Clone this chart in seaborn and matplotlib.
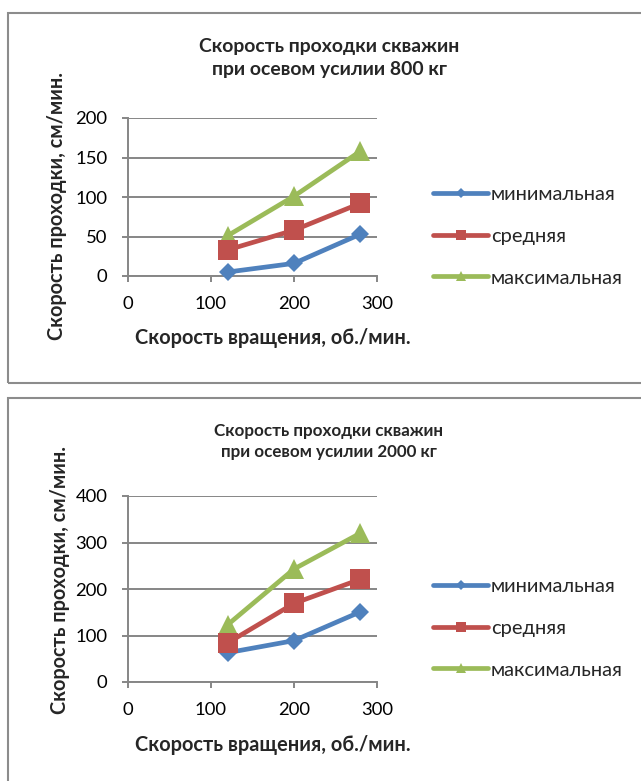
import numpy as np
import pandas as pd
import seaborn as sns
import matplotlib
matplotlib.use("Agg")
import matplotlib.pyplot as plt
from matplotlib.lines import Line2D
from matplotlib.patches import Rectangle

# ---------------- data ----------------
rpm = [120, 200, 280]
series_names = ["минимальная", "средняя", "максимальная"]
speed_800_min = [5, 16, 53]
speed_800_avg = [33, 58, 92]
speed_800_max = [51, 101, 158]
speed_2000_min = [63, 89, 151]
speed_2000_avg = [84, 169, 221]
speed_2000_max = [123, 243, 320]
title_800 = "Скорость проходки скважин\nпри осевом усилии 800 кг"
title_2000 = "Скорость проходки скважин\nпри осевом усилии 2000 кг"
xlabel_text = "Скорость вращения, об./мин."
ylabel_text = "Скорость проходки, см/мин."
x_ticks = [0, 100, 200, 300]
y_ticks_800 = [0, 50, 100, 150, 200]
y_ticks_2000 = [0, 100, 200, 300, 400]

# ---------------- style ----------------
colors = ["#4F81BD", "#C0504D", "#9BBB59"]
markers = ["D", "s", "^"]
marker_sizes = [8.7, 14.2, 14.2]
legend_marker_sizes = [5.0, 7.5, 7.5]
zorders = [3, 5, 4]
axis_gray = "#868686"
border_gray = "#8c8c8c"

sns.set_theme(style="white")
plt.rcParams["font.family"] = ["Lato", "DejaVu Sans"]

W, H = 641, 781
fig = plt.figure(figsize=(W / 100, H / 100), dpi=100)
fig.patch.set_facecolor("white")
renderer = fig.canvas.get_renderer()


def fx(x):
    return x / W


def fy(y):
    return 1 - y / H


def fit(t, target, dim="w"):
    for _ in range(4):
        bb = t.get_window_extent(renderer)
        cur = bb.width if dim == "w" else bb.height
        t.set_fontsize(t.get_fontsize() * target / cur)
    return t.get_fontsize()


# probe font sizes
probe = fig.text(0, 0, "300", fontsize=12)
tick_fs = fit(probe, 32)
probe.remove()
probe = fig.text(0, 0, "максимальная", fontsize=12)
leg_fs = fit(probe, 132)
probe.remove()

# borders of the two chart areas
fig.add_artist(Rectangle((fx(8), fy(383)), fx(700), (383 - 13) / H, transform=fig.transFigure,
                         fill=False, ec=border_gray, lw=1.5, clip_on=False))
fig.add_artist(Rectangle((fx(8), -0.2), fx(700), fy(398) + 0.2, transform=fig.transFigure,
                         fill=False, ec=border_gray, lw=1.5, clip_on=False))

charts = [
    dict(vals=[speed_800_min, speed_800_avg, speed_800_max], yticks=y_ticks_800, title=title_800,
         ax_top=118, ax_bot=276, title_c=58, title_w=262, ylab=(57, 206), xlab_y=338,
         leg_rows=(195, 278)),
    dict(vals=[speed_2000_min, speed_2000_avg, speed_2000_max], yticks=y_ticks_2000, title=title_2000,
         ax_top=496, ax_bot=682, title_c=441.5, title_w=229, ylab=(60, 580), xlab_y=745,
         leg_rows=(587, 670)),
]

ax_left, ax_right = 128, 377

for ch in charts:
    ax = fig.add_axes([fx(ax_left), fy(ch["ax_bot"]), (ax_right - ax_left) / W,
                       (ch["ax_bot"] - ch["ax_top"]) / H])
    ax.set_facecolor("none")
    for name, vals, c, m, ms, z in zip(series_names, ch["vals"], colors, markers, marker_sizes, zorders):
        sns.lineplot(x=rpm, y=vals, color=c, marker=m, markersize=ms, markeredgewidth=0,
                     linewidth=3.4, ax=ax, zorder=z, sort=False, errorbar=None,
                     solid_joinstyle="round", solid_capstyle="round", clip_on=False)
    ax.set_xlim(0, 300)
    ax.set_ylim(ch["yticks"][0], ch["yticks"][-1])
    ax.set_xticks(x_ticks)
    ax.set_yticks(ch["yticks"])
    ax.set_xticklabels([str(v) for v in x_ticks])
    ax.set_yticklabels([str(v) for v in ch["yticks"]])
    ax.set_xlabel("")
    ax.set_ylabel("")
    for s in ["top", "right"]:
        ax.spines[s].set_visible(False)
    for s in ["left", "bottom"]:
        ax.spines[s].set_visible(True)
        ax.spines[s].set_color(axis_gray)
        ax.spines[s].set_linewidth(1.4)
    ax.grid(axis="y", color=axis_gray, lw=1.4)
    ax.grid(axis="x", visible=False)
    ax.set_axisbelow(True)
    ax.tick_params(axis="both", direction="out", length=4.3, width=1.4, color=axis_gray,
                   labelsize=tick_fs, labelcolor="black")
    ax.tick_params(axis="y", pad=10.5, left=True)
    ax.tick_params(axis="x", pad=10.0, bottom=True)

    # title
    t = fig.text(fx(329), fy(ch["title_c"]), ch["title"], ha="center", va="center",
                 fontweight="bold", fontsize=12, linespacing=1.38, multialignment="center")
    fit(t, ch["title_w"])
    # axis labels
    yl = fig.text(fx(ch["ylab"][0]), fy(ch["ylab"][1]), ylabel_text, rotation=90,
                  ha="center", va="center", fontweight="bold", fontsize=12)
    fit(yl, 268, "h")
    xl = fig.text(fx(273), fy(ch["xlab_y"]), xlabel_text, ha="center", va="center",
                  fontweight="bold", fontsize=12)
    fit(xl, 276)

    # legend
    handles = [Line2D([], [], color=c, marker=m, markersize=lms, markeredgewidth=0, lw=3.4)
               for c, m, lms in zip(colors, markers, legend_marker_sizes)]
    fs_px = leg_fs * 100 / 72
    top_row, bot_row = ch["leg_rows"]
    spacing = 0.8
    anchor = [fx(433), fy(top_row - 10)]
    for _ in range(3):
        leg = ax.legend(handles=handles, labels=series_names, loc="upper left",
                        bbox_to_anchor=anchor, bbox_transform=fig.transFigure,
                        frameon=False, fontsize=leg_fs, borderpad=0, borderaxespad=0,
                        handlelength=55 / fs_px, handletextpad=3 / fs_px,
                        labelspacing=spacing, handleheight=0.7)
        fig.canvas.draw()
        texts = leg.get_texts()
        b0 = texts[0].get_window_extent(renderer)
        b2 = texts[2].get_window_extent(renderer)
        c0 = H - (b0.y0 + b0.y1) / 2
        c2 = H - (b2.y0 + b2.y1) / 2
        spacing += ((bot_row - top_row) - (c2 - c0)) / 2 / fs_px
        lb = leg.get_window_extent(renderer)
        anchor = [anchor[0] + (433 - lb.x0) / W, anchor[1] - (top_row - c0) / H]
    leg = ax.legend(handles=handles, labels=series_names, loc="upper left",
                    bbox_to_anchor=anchor, bbox_transform=fig.transFigure,
                    frameon=False, fontsize=leg_fs, borderpad=0, borderaxespad=0,
                    handlelength=55 / fs_px, handletextpad=3 / fs_px,
                    labelspacing=spacing, handleheight=0.7)

fig.savefig("out.png", dpi=100, facecolor="white")
